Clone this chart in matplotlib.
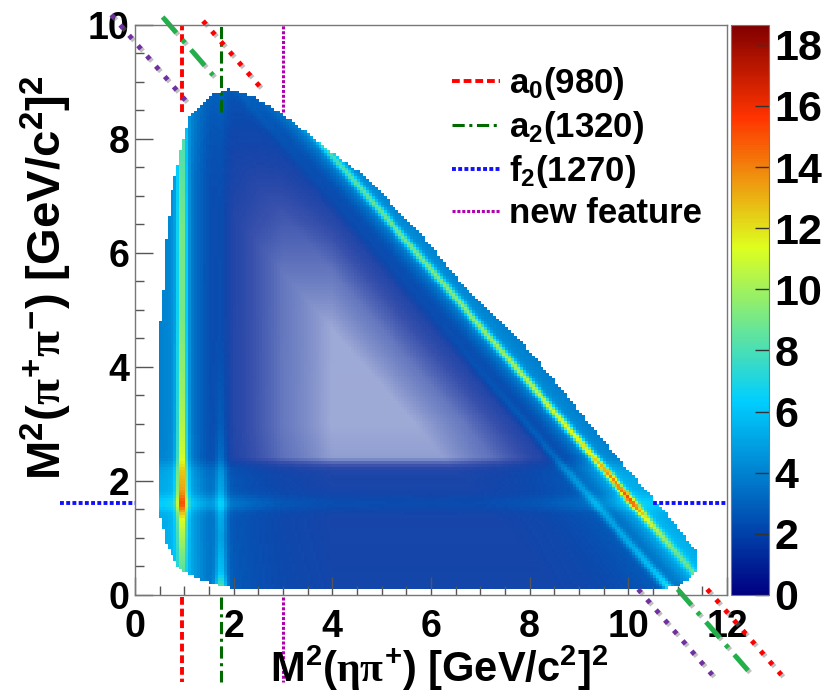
import numpy as np
import matplotlib
matplotlib.use('Agg')
import matplotlib.pyplot as plt
from matplotlib.colors import LinearSegmentedColormap, Normalize
from matplotlib.cm import ScalarMappable
from matplotlib.path import Path
from matplotlib.lines import Line2D
import matplotlib.patheffects as pe

plt.rcParams['font.family'] = ['Liberation Sans', 'DejaVu Sans']
plt.rcParams['font.weight'] = 'bold'
plt.rcParams['mathtext.fontset'] = 'custom'
plt.rcParams['mathtext.rm'] = 'Liberation Sans:bold'
plt.rcParams['mathtext.bf'] = 'Liberation Sans:bold'
plt.rcParams['mathtext.it'] = 'Liberation Serif'
plt.rcParams['mathtext.default'] = 'rm'

# Dalitz boundary: x = M2(eta pi+), y = M2(pi+ pi-)
edge_x = [0.47, 0.47, 0.55, 0.61, 0.75, 0.95, 1.11, 1.5, 1.9, 2.4, 2.94, 3.95,
          4.76, 5.37, 5.84, 6.73, 7.74, 8.62, 9.43, 10.0, 10.5, 10.9, 11.2,
          11.4, 11.4, 11.19, 10.99, 10.5, 2.2, 1.72, 1.3, 0.91, 0.65, 0.51]
edge_y = [1.5, 4.6, 5.0, 6.1, 7.1, 7.86, 8.39, 8.75, 8.88, 8.75, 8.47, 7.8,
          7.28, 6.7, 6.29, 5.35, 4.53, 3.65, 2.77, 2.2, 1.7, 1.3, 0.95,
          0.75, 0.44, 0.26, 0.15, 0.08, 0.08, 0.16, 0.28, 0.44, 0.84, 1.37]

# x + y + M2(eta pi-) for chi_c1 -> eta pi+ pi-
m2_sum = 12.67

# smooth population near the low-mass end of each pair (counts per bin)
etapi_m2 = [0.47, 1.0, 1.5, 2.0, 2.5, 3.0, 4.0, 13.0]
etapi_level = [3.6, 3.0, 2.0, 1.1, 0.7, 0.4, 0.1, 0.02]
pipi_m2 = [0.08, 1.0, 2.0, 2.2, 2.4, 3.0, 10.0]
pipi_level = [1.5, 1.4, 1.3, 1.1, 0.15, 0.08, 0.05]

# resonance positions (GeV^2)
a0_m2 = 0.96
a2_m2 = 1.74
f2_m2 = 1.61
new_m2 = 3.0

# band heights along each band (extra counts per bin at band centre)
a0x_y = [0.2, 0.8, 1.3, 1.6, 2.0, 2.6, 3.5, 5.0, 6.5, 8.0, 8.6]
a0x_amp = [2, 4, 6, 9, 8, 7, 6, 5, 5, 4, 2]
a0z_x = [2.5, 3.5, 4.5, 5.5, 6.5, 7.5, 8.5, 9.5, 10.0, 10.5, 11.0]
a0z_amp = [2, 3, 4, 4.5, 5, 5.5, 6.5, 8, 9, 5, 3]
a2x_y = [0.1, 0.4, 1.0, 1.6, 2.2, 3.0, 4.5, 8.8]
a2x_amp = [6, 3, 2, 2.5, 1.8, 1, 0.4, 0.3]
a2z_x = [6.0, 8.0, 9.0, 10.0, 10.6, 10.9]
a2z_amp = [0.3, 1.0, 1.8, 2.2, 3.0, 5]
f2_x = [0.5, 1.5, 3.0, 6.0, 9.0, 10.5]
f2_amp = [1.2, 1.2, 0.7, 0.5, 0.7, 1.0]
halo_amp = 1.2

# where the marker lines were drawn, as x + y of each diagonal (top / bottom piece)
diag_top_sum = [11.45, 10.7, 9.7]
diag_bot_sum = [11.7, 11.1, 10.3]

zmax = 18.65
cmap = LinearSegmentedColormap.from_list('root', [
    (0.0, (0.0, 0.0, 0.51)), (0.34, (0.0, 0.81, 1.0)), (0.61, (0.87, 1.0, 0.12)),
    (0.84, (1.0, 0.2, 0.0)), (1.0, (0.51, 0.0, 0.0))])
norm = Normalize(0, zmax)

xe = np.linspace(0, 12, 201)
ye = np.linspace(0, 10, 201)
X, Y = np.meshgrid((xe[:-1] + xe[1:]) / 2, (ye[:-1] + ye[1:]) / 2)
Z = m2_sum - X - Y


def band(d, sig, amp):
    return amp * np.exp(-0.5 * (d / sig) ** 2)


lam = (0.05 + np.interp(X, etapi_m2, etapi_level) + np.interp(Z, etapi_m2, etapi_level)
       + np.interp(Y, pipi_m2, pipi_level))
lam += band(X - a0_m2, 0.07, np.interp(Y, a0x_y, a0x_amp))
lam += band(Z - a0_m2, 0.07, np.interp(X, a0z_x, a0z_amp))
lam += band(X - a0_m2, 0.25, halo_amp) + band(Z - a0_m2, 0.25, halo_amp)
lam += band(X - a2_m2, 0.08, np.interp(Y, a2x_y, a2x_amp))
lam += band(Z - a2_m2, 0.08, np.interp(X, a2z_x, a2z_amp))
lam += band(Y - f2_m2, 0.1, np.interp(X, f2_x, f2_amp))

inside = Path(np.column_stack([edge_x, edge_y])).contains_points(
    np.column_stack([X.ravel(), Y.ravel()])).reshape(X.shape)

# sparse bins: fade toward white (empty bins are white in the original)
filled = 1 - np.exp(-1.5 * lam)
rgba = cmap(norm(np.maximum(lam, 1.0)))
rgba[..., :3] = 1 - filled[..., None] * (1 - rgba[..., :3])
rgba[~inside] = (1, 1, 1, 0)

fig = plt.figure(figsize=(8.39, 6.98), dpi=100)
ax = fig.add_axes([0.1609, 0.1476, 0.7056, 0.8166])
cax = fig.add_axes([0.8713, 0.1476, 0.0453, 0.8166])

ax.imshow(rgba, extent=[0, 12, 0, 10], origin='lower', aspect='auto',
          interpolation='nearest')
ax.set_xlim(0, 12)
ax.set_ylim(0, 10)

red_style = dict(color='red', lw=2.8, ls=(0, (2, 1)))
green_style = dict(color='#006a00', lw=2.2, ls=(0, (4, 1.5, 1, 1.5)))
blue_style = dict(color='#1010ff', lw=2.8, ls=(0, (1, 0.6)))
mag_style = dict(color='#b000b0', lw=2.2, ls=(0, (1, 0.6)))

for m2, st in [(a0_m2, red_style), (a2_m2, green_style), (new_m2, mag_style)]:
    ax.plot([m2, m2], [8.47, 10], clip_on=False, **st)
    ax.plot([m2, m2], [-0.04, -1.52], clip_on=False, **st)
ax.plot([-1.52, 0], [f2_m2, f2_m2], clip_on=False, **blue_style)
ax.plot([10.5, 12], [f2_m2, f2_m2], clip_on=False, **blue_style)

shadow = [pe.SimpleLineShadow(offset=(1.5, -1.5), shadow_color='gray', alpha=0.5), pe.Normal()]
diag_styles = [dict(color='red', lw=3.5, ls=(0, (0.9, 1.9))),
               dict(color='#22b04a', lw=3.5, ls=(0, (4.3, 1.9, 0.8, 1.9))),
               dict(color='#7030a0', lw=3.5, ls=(0, (0.9, 1.9)))]
top_y = [(10.07, 8.86), (10.14, 9.12), (10.18, 8.68)]
for s_top, s_bot, (y0, y1), st in zip(diag_top_sum, diag_bot_sum, top_y, diag_styles):
    ax.plot([s_top - y0, s_top - y1], [y0, y1], clip_on=False, path_effects=shadow, **st)
    ax.plot([s_bot - 0.1, s_bot + 1.4], [0.1, -1.4], clip_on=False, path_effects=shadow, **st)

handles = [Line2D([], [], **red_style), Line2D([], [], **green_style),
           Line2D([], [], **blue_style), Line2D([], [], **mag_style)]
labels = [r'a$_{0}$(980)', r'a$_{2}$(1320)', r'f$_{2}$(1270)', 'new feature']
ax.legend(handles, labels, loc='upper left', bbox_to_anchor=(0.535, 0.93),
          frameon=False, fontsize=25, handlelength=1.4, handletextpad=0.25,
          labelspacing=0.2, borderpad=0, borderaxespad=0)

ax.set_xticks(np.arange(0, 13, 2))
ax.set_yticks(np.arange(0, 11, 2))
ax.set_xticks(np.arange(0, 12.1, 0.5), minor=True)
ax.set_yticks(np.arange(0, 10.1, 0.5), minor=True)
ax.tick_params(which='both', direction='in', top=False, right=False,
               color='#555555', width=1, labelsize=27)
ax.tick_params(which='major', length=13)
ax.tick_params(which='minor', length=6.5)
ax.tick_params(axis='x', pad=10)
ax.tick_params(axis='y', pad=4)
for sp in ax.spines.values():
    sp.set_color('#777777')
    sp.set_linewidth(1)

fig.text(0.523, 0.043, r'M$^{2}$($\mathit{\eta\pi}^{+}$) [GeV/c$^{2}$]$^{2}$',
         ha='center', va='center', fontsize=30)
fig.text(0.055, 0.602, r'M$^{2}$($\mathit{\pi}^{+}\mathit{\pi}^{-}$) [GeV/c$^{2}$]$^{2}$',
         ha='center', va='center', rotation=90, fontsize=34)

cb = fig.colorbar(ScalarMappable(norm=norm, cmap=cmap), cax=cax)
cb.set_ticks(np.arange(0, 19, 2))
cb.outline.set_edgecolor('#777777')
cax.tick_params(direction='in', length=10, color='#333333', width=1,
                labelsize=31, pad=4)

fig.savefig('out.png', dpi=100)
